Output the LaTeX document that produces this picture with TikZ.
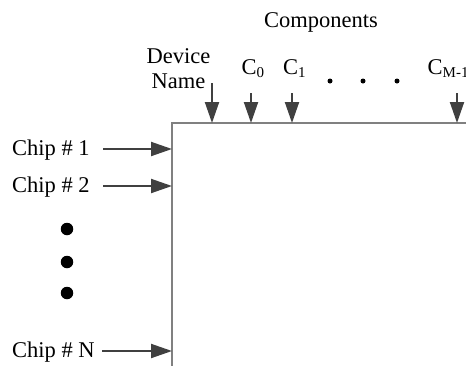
\documentclass[tikz,border=0pt]{standalone}
\usepackage{fontspec}
\setmainfont{Liberation Serif}
\usetikzlibrary{arrows.meta}
\definecolor{arrgray}{HTML}{404040}
\definecolor{boxgray}{HTML}{808080}
\newcommand{\mysub}[1]{\raisebox{-2.5pt}{\fontsize{15}{17}\selectfont #1}}
\tikzset{
  lbl/.style={inner sep=0pt, font=\fontsize{22.5}{26}\selectfont},
  arr/.style={draw=arrgray, line width=2pt, -{Triangle[length=21pt,width=14pt]}, color=arrgray},
  boxline/.style={draw=boxgray, line width=1.5pt},
  bigdot/.style={fill=black, circle, inner sep=0pt, minimum size=12.5pt},
  smalldot/.style={fill=black, circle, inner sep=0pt, minimum size=5pt}
}
\begin{document}
\begin{tikzpicture}[x=1pt,y=-1pt]
\useasboundingbox (0,0) rectangle (466,365);
\clip (0,0) rectangle (466,365);
% box
\coordinate (corner) at (172,123);
\coordinate (right) at (470,123);
\coordinate (bottom) at (172,370);
\draw[boxline] (right) -- (corner) -- (bottom);
% labels top
\node[lbl, anchor=base] (comp) at (321,27.5) {Components};
\node[lbl, anchor=base] (dev) at (178.5,63) {Device};
\node[lbl, anchor=base] (name) at (178.5,88) {Name};
\node[lbl, anchor=base west] (c0) at (241.5,74.5) {C\mysub{0}};
\node[lbl, anchor=base west] (c1) at (283,74.5) {C\mysub{1}};
\node[lbl, anchor=base west] (cm) at (427.5,74.5) {C\mysub{M-1}};
\node[smalldot] (d1) at (330,81) {};
\node[smalldot] (d2) at (363,81) {};
\node[smalldot] (d3) at (397,81) {};
% top arrows
\coordinate (ts0) at (212,83);  \coordinate (te0) at (212,123);
\coordinate (ts1) at (251,93);  \coordinate (te1) at (251,123);
\coordinate (ts2) at (292,93);  \coordinate (te2) at (292,123);
\coordinate (ts3) at (457,93);  \coordinate (te3) at (457,123);
\draw[arr] (ts0) -- (te0);
\draw[arr] (ts1) -- (te1);
\draw[arr] (ts2) -- (te2);
\draw[arr] (ts3) -- (te3);
% left labels
\node[lbl, anchor=base west] (chip1) at (12,155) {Chip \# 1};
\node[lbl, anchor=base west] (chip2) at (12,192) {Chip \# 2};
\node[lbl, anchor=base west] (chipn) at (12,357) {Chip \# N};
\node[bigdot] (v1) at (67,229) {};
\node[bigdot] (v2) at (67,262) {};
\node[bigdot] (v3) at (67,293) {};
% left arrows
\coordinate (ls1) at (103,149); \coordinate (le1) at (172,149);
\coordinate (ls2) at (103,186); \coordinate (le2) at (172,186);
\coordinate (ls3) at (102,351); \coordinate (le3) at (172,351);
\draw[arr] (ls1) -- (le1);
\draw[arr] (ls2) -- (le2);
\draw[arr] (ls3) -- (le3);
\end{tikzpicture}
\end{document}
